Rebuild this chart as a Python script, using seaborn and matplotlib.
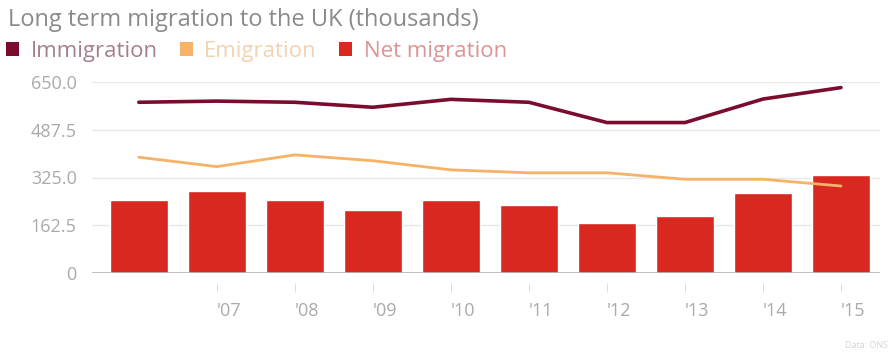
import matplotlib
matplotlib.use("Agg")
import matplotlib.pyplot as plt
from matplotlib.patches import Patch
import seaborn as sns
import pandas as pd

years = ["2006", "2007", "2008", "2009", "2010", "2011", "2012", "2013", "2014", "2015"]
tick_labels = ["'07", "'08", "'09", "'10", "'11", "'12", "'13", "'14", "'15"]
immigration = [581, 585, 581, 564, 591, 581, 512, 512, 592, 631]
emigration = [394, 362, 402, 382, 351, 341, 341, 319, 319, 296]
net_migration = [248, 279, 247, 216, 249, 233, 171, 194, 273, 332]
y_ticks = [0, 162.5, 325.0, 487.5, 650.0]
y_tick_labels = ["0", "162.5", "325.0", "487.5", "650.0"]

C_IMM = "#7a0d2e"
C_EMI = "#f6b266"
C_NET = "#d8281f"

df = pd.DataFrame({"year": years, "immigration": immigration,
                   "emigration": emigration, "net": net_migration})

sns.set_theme(style="white")
plt.rcParams["font.family"] = ["Open Sans", "DejaVu Sans"]

fig = plt.figure(figsize=(8.96, 3.52), dpi=100)
ax = fig.add_axes([92 / 896, 1 - 273 / 352, (880 - 92) / 896, (273 - 82) / 352])

sns.barplot(data=df, x="year", y="net", color=C_NET, width=0.74,
            saturation=1, ax=ax, zorder=2)
sns.lineplot(data=df, x="year", y="emigration", color=C_EMI, linewidth=2.0,
             ax=ax, zorder=3)
sns.lineplot(data=df, x="year", y="immigration", color=C_IMM, linewidth=2.6,
             ax=ax, zorder=3)

for s in ax.spines.values():
    s.set_visible(False)
ax.spines["bottom"].set_position(("outward", 7.5))

ax.set_ylim(0, 650)
ax.set_xlim(-0.6, 9.5)
ax.set_yticks(y_ticks)
ax.set_yticklabels(y_tick_labels)
ax.set_xticks(range(1, 10))
ax.set_xticklabels(tick_labels, ha="left")
ax.set_xlabel("")
ax.set_ylabel("")

ax.grid(axis="y", color="#e8e8e8", linewidth=1.0, zorder=0)
ax.grid(axis="x", visible=False)
ax.axhline(0, color="#b5b5b5", linewidth=1.2, zorder=4)

ax.tick_params(axis="y", length=0, pad=11, labelsize=13, labelcolor="#aaaaaa")
ax.tick_params(axis="x", bottom=True, length=6.5, width=0.8, color="#dddddd",
               pad=7, labelsize=13, labelcolor="#aaaaaa")

fig.text(8 / 896, 1 - 20 / 352, "Long term migration to the UK (thousands)",
         fontsize=17, color="#8a8a8a", ha="left", va="center")

handles = [Patch(facecolor=C_IMM, edgecolor="none"),
           Patch(facecolor=C_EMI, edgecolor="none"),
           Patch(facecolor=C_NET, edgecolor="none")]
leg = fig.legend(handles, ["Immigration", "Emigration", "Net migration"],
                 loc="center left", bbox_to_anchor=(6 / 896, 1 - 51 / 352),
                 ncol=3, frameon=False, fontsize=16, handlelength=0.6,
                 handleheight=0.6, handletextpad=0.5, columnspacing=1.0,
                 borderaxespad=0, borderpad=0)
for t, c in zip(leg.get_texts(), ["#a4808e", "#f2d2b2", "#dc9494"]):
    t.set_color(c)

fig.text(888 / 896, 1 - 346 / 352, "Data: ONS", fontsize=6.5, color="#d5d5d5",
         ha="right", va="center")

fig.savefig("out.png", dpi=100, facecolor="white")
